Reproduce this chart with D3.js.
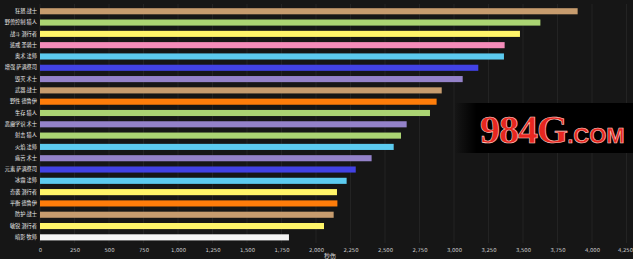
<!DOCTYPE html>
<html>
<head>
<meta charset="utf-8">
<script src="https://cdn.jsdelivr.net/npm/d3@7"></script>
<style>
  html, body { margin: 0; padding: 0; background: #161616; }
  svg { display: block; }
</style>
</head>
<body>
<script>
// Horizontal DPS bar chart, one bar per spec

const width = 633;
const height = 259;

const specs = ["狂怒 战士", "野兽控制 猎人", "战斗 潜行者", "惩戒 圣骑士", "奥术 法师", "增强 萨满祭司",
    "毁灭 术士", "武器 战士", "野性 德鲁伊", "生存 猎人", "恶魔学识 术士", "射击 猎人", "火焰 法师",
    "痛苦 术士", "元素 萨满祭司", "冰霜 法师", "奇袭 潜行者", "平衡 德鲁伊", "防护 战士", "敏锐 潜行者", "暗影 牧师"];
const dps = [3896, 3626, 3478, 3367, 3362, 3176, 3063, 2911, 2874, 2826, 2657, 2616, 2563,
    2403, 2288, 2222, 2152, 2155, 2128, 2058, 1804];
const classColors = ["#c79c6e", "#abd473", "#fff569", "#f58cba", "#5ccbf0", "#4242e4",
    "#9482c9", "#c79c6e", "#ff7d0a", "#abd473", "#9482c9", "#abd473", "#5ccbf0",
    "#9482c9", "#4242e4", "#5ccbf0", "#fff569", "#ff7d0a", "#c79c6e", "#fff569", "#f4f4f4"];
const ticks = d3.range(0, 4251, 250);

const svg = d3.select("body")
    .append("svg")
    .attr("width", width)
    .attr("height", height);

const x = d3.scaleLinear()
    .domain([0, 4250])
    .range([40, 626.5]);

const y = d3.scaleBand()
    .domain(specs)
    .range([5.6, 243])
    .paddingInner(0.46)
    .paddingOuter(0.23);

// vertical grid
svg.append("g")
    .selectAll("line")
    .data(ticks)
    .join("line")
    .attr("x1", d => x(d))
    .attr("x2", d => x(d))
    .attr("y1", 4)
    .attr("y2", 243)
    .attr("stroke", "#232323")
    .attr("stroke-width", 1);

// bars
svg.append("g")
    .selectAll("rect")
    .data(specs)
    .join("rect")
    .attr("x", x(0))
    .attr("y", d => y(d))
    .attr("width", (d, i) => x(dps[i]) - x(0))
    .attr("height", y.bandwidth())
    .attr("fill", (d, i) => classColors[i]);

// category labels
const yAxis = svg.append("g")
    .attr("transform", `translate(${x(0) - 3},0)`)
    .call(d3.axisLeft(y).tickSize(0).tickPadding(0));
yAxis.select(".domain").remove();
yAxis.selectAll("text")
    .attr("fill", "#f0f0f0")
    .style("font-family", "'Noto Sans CJK SC', sans-serif")
    .style("font-size", "5.2px");

// x axis
const xAxis = svg.append("g")
    .attr("transform", "translate(0,243)")
    .call(d3.axisBottom(x).tickValues(ticks).tickSize(0).tickPadding(5).tickFormat(d3.format(",")));
xAxis.select(".domain").remove();
xAxis.selectAll("text")
    .attr("fill", "#cfcfcf")
    .style("font-family", "'DejaVu Sans', sans-serif")
    .style("font-size", "5.3px");
// keep the last label inside the frame
xAxis.selectAll("text").filter(d => d === 4250).attr("dx", -1.5);

svg.append("text")
    .attr("x", 330)
    .attr("y", 257.5)
    .attr("text-anchor", "middle")
    .attr("fill", "#d8d8d8")
    .style("font-family", "'Noto Sans CJK SC', sans-serif")
    .style("font-size", "6px")
    .text("秒伤");

// watermark box
const grad = svg.append("defs").append("linearGradient")
    .attr("id", "wm")
    .attr("x1", "0").attr("x2", "1").attr("y1", "0").attr("y2", "0");
grad.append("stop").attr("offset", "0").attr("stop-color", "#000").attr("stop-opacity", 0);
grad.append("stop").attr("offset", "0.12").attr("stop-color", "#000").attr("stop-opacity", 1);
grad.append("stop").attr("offset", "1").attr("stop-color", "#000").attr("stop-opacity", 1);

svg.append("rect")
    .attr("x", 455)
    .attr("y", 103)
    .attr("width", 178)
    .attr("height", 50)
    .attr("fill", "url(#wm)");

const wm = svg.append("text")
    .attr("x", 480)
    .attr("y", 143)
    .attr("fill", "#e8261f")
    .attr("stroke", "#ffd0c8")
    .attr("stroke-width", 0.6)
    .style("font-family", "'Liberation Serif', serif")
    .style("font-weight", "bold");
wm.append("tspan").style("font-size", "40px").attr("letter-spacing", "-1").text("984G");
wm.append("tspan").style("font-family", "'Liberation Sans', sans-serif").style("font-size", "22px").text(".COM");
</script>
</body>
</html>
